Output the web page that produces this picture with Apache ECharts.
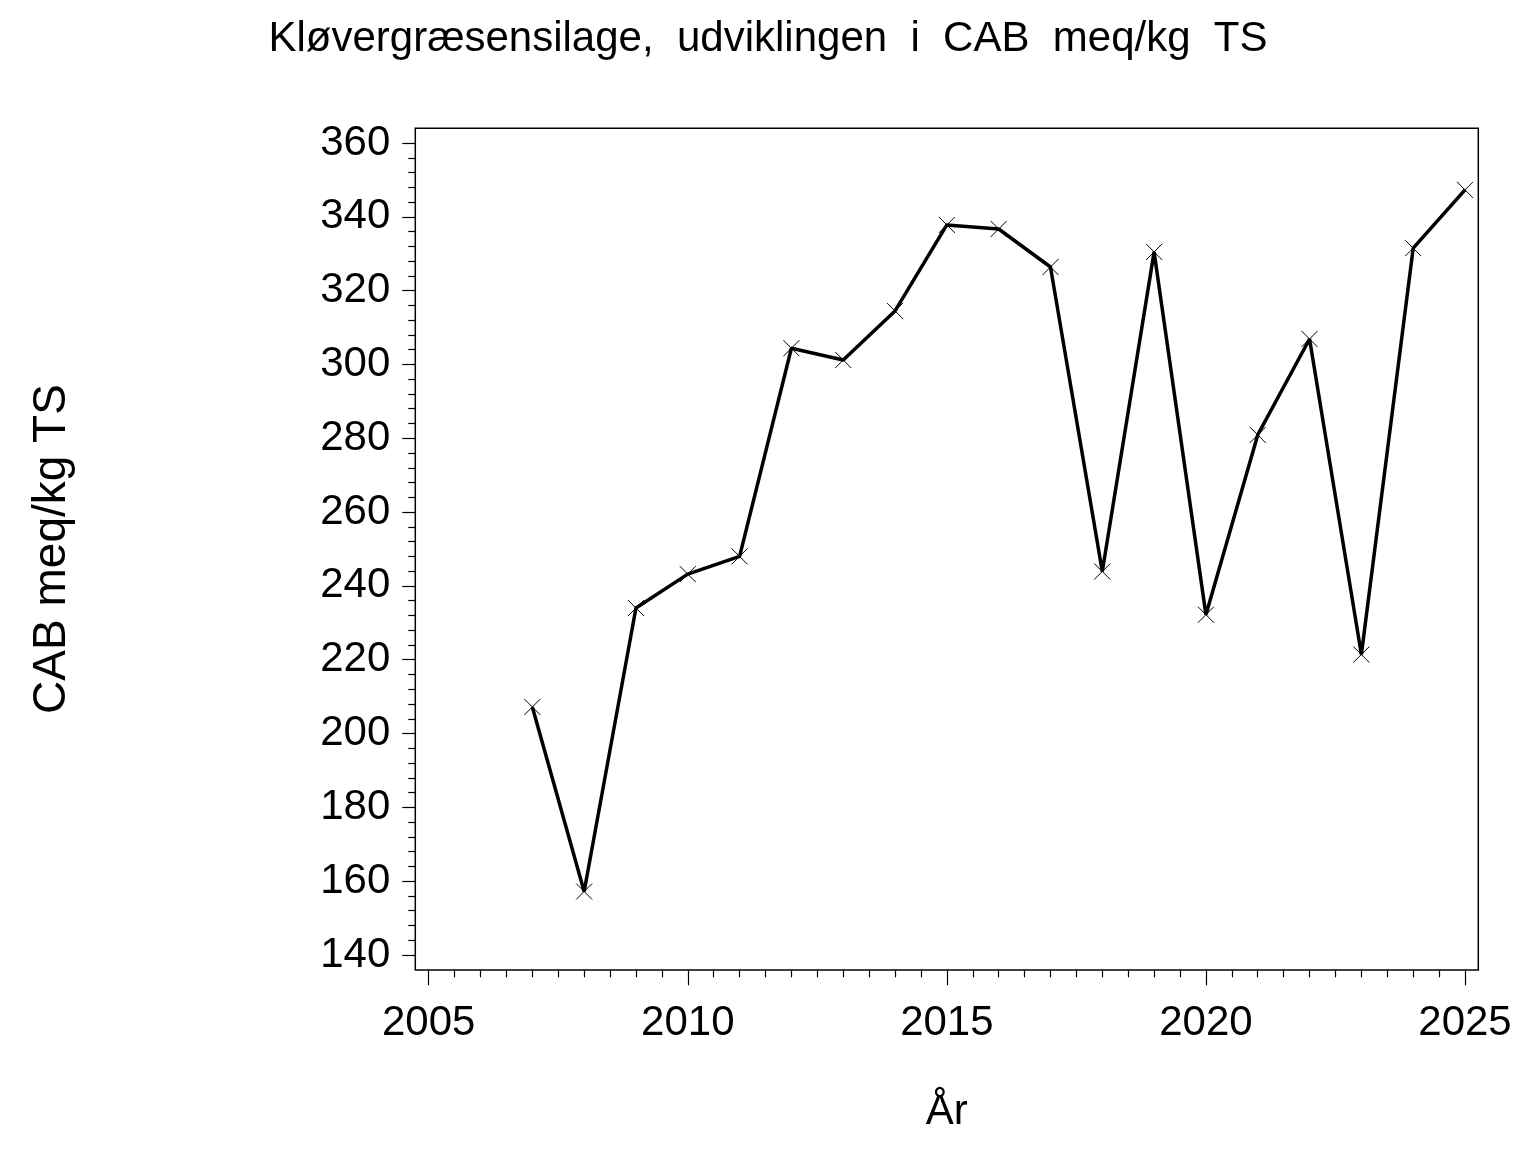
<!DOCTYPE html>
<html>
<head>
<meta charset="utf-8">
<script src="https://cdn.jsdelivr.net/npm/echarts@6/dist/echarts.min.js"></script>
<style>
html,body{margin:0;padding:0;background:#fff;}
#chart{width:1536px;height:1152px;}
</style>
</head>
<body>
<div id="chart"></div>
<script>
const years = [2007,2008,2009,2010,2011,2012,2013,2014,2015,2016,2017,2018,2019,2020,2021,2022,2023,2024,2025];
const cab   = [207.2,157.2,234,243.2,248,304.4,301.2,314.5,337.8,336.7,326.4,243.9,330.5,232.2,280.9,306.9,221.4,331.5,347.3];
const titleText = 'Kløvergræsensilage,  udviklingen  i  CAB  meq/kg  TS';
const yName = 'CAB meq/kg TS';
const xName = 'År';

const FONT = 'Liberation Sans';
const chart = echarts.init(document.getElementById('chart'), null, {renderer:'canvas'});
const data = years.map((y,i)=>[y,cab[i]]);

chart.setOption({
  animation:false,
  backgroundColor:'#fff',
  title:{text:titleText,left:'center',top:13,
    textStyle:{fontFamily:FONT,fontSize:42,fontWeight:'normal',color:'#000'}},
  grid:[
    {left:428.7,top:143,width:1036.3,height:812,show:false},
    {left:415.3,top:128.3,width:1063,height:841.7,show:true,borderColor:'#000',borderWidth:1.5,backgroundColor:'transparent',z:0}
  ],
  xAxis:[
    {type:'value',gridIndex:0,min:2005,max:2025,interval:5,offset:15.3,
     axisLine:{show:false},
     axisTick:{show:true,length:15,lineStyle:{color:'#000',width:1.2}},
     minorTick:{show:true,splitNumber:10,length:7,lineStyle:{color:'#000',width:1.2}},
     splitLine:{show:false},
     axisLabel:{fontFamily:FONT,fontSize:42,color:'#000',margin:32,formatter:v=>String(v)},
     name:xName,nameLocation:'middle',nameGap:121,
     nameTextStyle:{fontFamily:FONT,fontSize:42,color:'#000'}},
    {type:'value',gridIndex:1,min:0,max:1,show:false}
  ],
  yAxis:[
    {type:'value',gridIndex:0,min:140,max:360,interval:20,offset:13.4,
     axisLine:{show:false},
     axisTick:{show:true,length:13,lineStyle:{color:'#000',width:1.2}},
     minorTick:{show:true,splitNumber:5,length:7,lineStyle:{color:'#000',width:1.2}},
     splitLine:{show:false},
     axisLabel:{fontFamily:FONT,fontSize:42,color:'#000',margin:25},
     name:yName,nameLocation:'middle',nameGap:340,nameRotate:90,
     nameTextStyle:{fontFamily:FONT,fontSize:46,color:'#000'}},
    {type:'value',gridIndex:1,min:0,max:1,show:false}
  ],
  series:[{
    type:'line',xAxisIndex:0,yAxisIndex:0,data:data,
    lineStyle:{color:'#000',width:3.5},
    symbol:'path://M0,0L16,16M16,0L0,16',symbolSize:16,
    itemStyle:{color:'rgba(0,0,0,0)',borderColor:'#000',borderWidth:1},
    showSymbol:true,clip:false
  }]
});
</script>
</body>
</html>
